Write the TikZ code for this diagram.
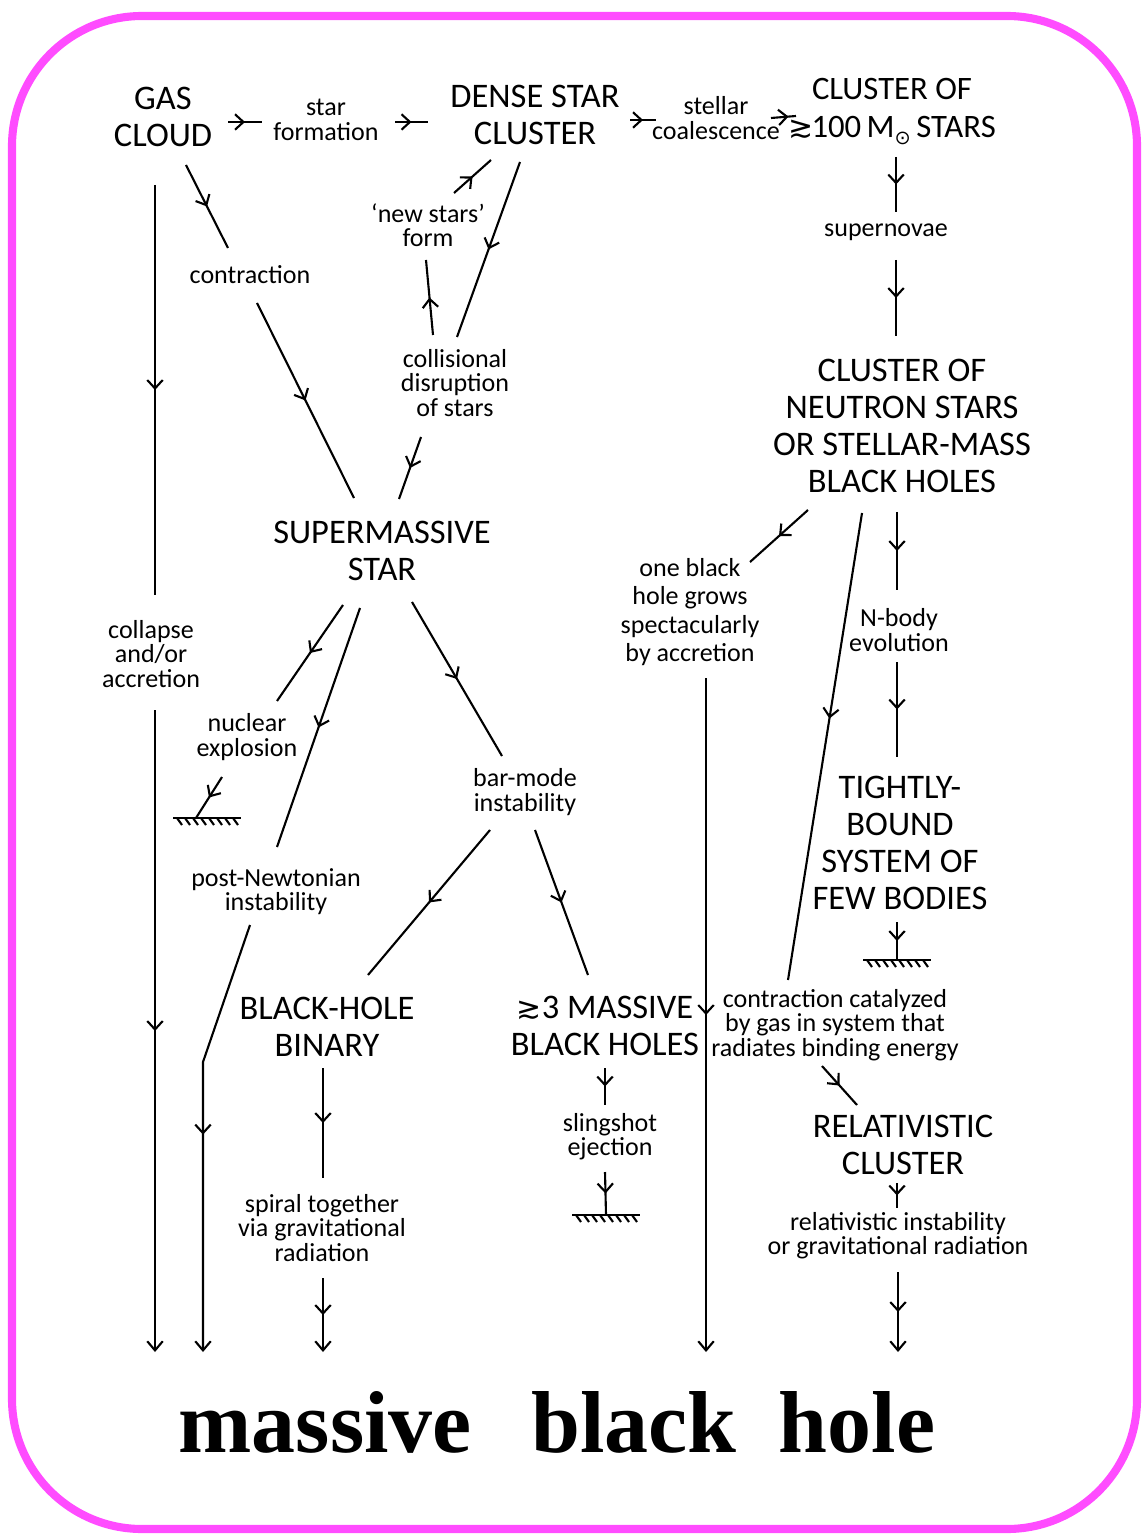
\documentclass[tikz,border=0pt]{standalone}
\usepackage{fontspec}
\setmainfont{Carlito}
\newfontfamily\titlefont{Liberation Serif}
\newfontfamily\symfont{DejaVu Sans}
\usetikzlibrary{arrows.meta, calc, decorations.markings}
\definecolor{cpink}{HTML}{FF4CFF}
\newcommand\gtsim{{\symfont\fontsize{8.5}{8.5}\selectfont ≳}}
\newcommand\msun{M\raisebox{-2.2pt}{\symfont\fontsize{5.5}{5.5}\selectfont ⊙}}
\tikzset{
  every picture/.style={line width=0.6pt},
  stage/.style={font=\fontsize{9.8}{10.6}\selectfont, align=center, inner sep=1pt},
  proc/.style={font=\fontsize{7.4}{6.9}\selectfont, align=center, inner sep=1pt},
  flow/.style={postaction={decorate}, decoration={markings,
      mark=at position #1 with {\arrow{Straight Barb[length=2.4pt, width=4.4pt]}}}},
  flow/.default=0.5,
  into/.style={flow, -{Straight Barb[length=2.6pt, width=4.4pt]}},
  earth/.pic={
    \draw (-34,0) -- (34,0);
    \foreach \h in {-30,-22,...,26} \draw (\h,0) -- ++(5,7);
  },
}

\begin{document}
\begin{tikzpicture}[x=0.01cm, y=-0.01cm]
  \useasboundingbox (0,0) rectangle (1145,1537);
  % frame
  \draw[cpink, line width=2.3pt, rounded corners=1.3cm] (12,16) rectangle (1137,1529);

  % top row
  \node[stage] (gas) at (163,117) {GAS\\CLOUD};
  \node[proc] (starf) at (326,120) {star\\formation};
  \node[stage] (dsc) at (535,115) {DENSE STAR\\CLUSTER};
  \node[proc] (coal) at (716,118) {stellar\\coalescence};
  \node[stage, font=\fontsize{9.3}{10.6}\selectfont] (big) at (892,112) {CLUSTER OF\\\gtsim\kern-0.5pt100\,\msun\,STARS};

  % right column
  \node[proc] (super) at (886,232) {supernovae};
  \node[stage] (ncl) at (902,426) {CLUSTER OF\\NEUTRON STARS\\OR STELLAR-MASS\\BLACK HOLES};
  \node[proc, font=\fontsize{7.4}{8}\selectfont] (onebh) at (690,612) {one black\\hole grows\\spectacularly\\by accretion};
  \node[proc] (nbody) at (899,630) {N-body\\evolution};
  \node[stage] (tight) at (900,843) {TIGHTLY-\\BOUND\\SYSTEM OF\\FEW BODIES};
  \node[proc] (catal) at (835,1025) {contraction catalyzed\\by gas in system that\\radiates binding energy};
  \node[stage] (relcl) at (903,1145) {RELATIVISTIC\\CLUSTER};
  \node[proc] (relinst) at (898,1236) {relativistic instability\\or gravitational radiation};

  % middle and left
  \node[proc] (newst) at (428,225) {‘new stars’\\form};
  \node[proc] (coll) at (455,383) {collisional\\disruption\\of stars};
  \node[proc] (contr) at (250,275) {contraction};
  \node[proc] (collapse) at (151,654) {collapse\\and/or\\accretion};
  \node[stage] (sms) at (382,551) {SUPERMASSIVE\\STAR};
  \node[proc] (nucl) at (247,737) {nuclear\\explosion};
  \node[proc] (postn) at (276,892) {post-Newtonian\\instability};
  \node[proc] (bar) at (525,792) {bar-mode\\instability};
  \node[stage] (bhb) at (327,1027) {BLACK-HOLE\\BINARY};
  \node[stage] (mbh) at (605,1026) {\gtsim 3 MASSIVE\\BLACK HOLES};
  \node[proc] (spiral) at (322,1228) {spiral together\\via gravitational\\radiation};
  \node[proc] (sling) at (610,1137) {slingshot\\ejection};

  \node[font=\titlefont\bfseries\fontsize{25}{25}\selectfont] (mbhole) at (557,1422)
    {massive\hspace{17pt}black\hspace{12pt}hole};

  % dead ends and final arrow ends
  \coordinate (g1) at (207,818);
  \coordinate (g2) at (606,1215);
  \coordinate (g3) at (897,960);
  \foreach \g in {g1,g2,g3} \pic at (\g) {earth};
  \coordinate (e1) at (155,1352);
  \coordinate (e2) at (203,1352);
  \coordinate (e3) at (323,1352);
  \coordinate (e4) at (706,1352);
  \coordinate (e5) at (898,1352);

  % top row connectors
  \draw[flow] ($(gas)+(65,5)$) -- ($(starf)+(-64,2)$);
  \draw[flow] ($(starf)+(69,2)$) -- ($(dsc)+(-107,7)$);
  \draw[flow] ($(dsc)+(95,5)$) -- ($(coal)+(-60,2)$);
  \draw[flow=0.7] ($(coal)+(55,0)$) -- ($(big)+(-96,4)$);

  % right side
  \draw[flow] ($(big)+(4,45)$) -- ($(super)+(10,-20)$);
  \draw[flow] ($(super)+(10,28)$) -- ($(ncl)+(-6,-90)$);
  \draw[flow] ($(ncl)+(-94,84)$) -- ($(onebh)+(60,-50)$);
  \draw[into] ($(onebh)+(16,66)$) -- (e4);
  \draw[flow=0.44] ($(ncl)+(-40,87)$) -- ($(catal)+(-47,-45)$);
  \draw[flow] ($(ncl)+(-5,86)$) -- ($(nbody)+(-2,-40)$);
  \draw[flow] ($(nbody)+(-2,32)$) -- ($(tight)+(-3,-86)$);
  \draw[flow] ($(tight)+(-3,79)$) -- (g3);
  \draw[flow] ($(catal)+(-13,41)$) -- ($(relcl)+(-46,-40)$);
  \draw[flow] ($(relcl)+(-6,38)$) -- ($(relinst)+(-1,-28)$);
  \draw[into] ($(relinst)+(0,36)$) -- (e5);

  % left side
  \draw[flow] ($(gas)+(-8,68)$) -- ($(collapse)+(4,-59)$);
  \draw[into] ($(collapse)+(4,56)$) -- (e1);
  \draw[flow] ($(gas)+(23,48)$) -- ($(contr)+(-22,-27)$);
  \draw[flow] ($(contr)+(7,28)$) -- ($(sms)+(-28,-53)$);
  \draw[flow] ($(dsc)+(-15,47)$) -- ($(coll)+(2,-46)$);
  \draw[flow] ($(coll)+(-22,-48)$) -- ($(newst)+(-2,35)$);
  \draw[flow] ($(newst)+(26,-32)$) -- ($(dsc)+(-44,45)$);
  \draw[flow] ($(coll)+(-34,54)$) -- ($(sms)+(17,-52)$);

  % out of the supermassive star
  \draw[flow] ($(sms)+(-39,54)$) -- ($(nucl)+(30,-36)$);
  \draw[flow] ($(nucl)+(-25,40)$) -- ($(g1)+(-11,0)$);
  \draw[flow] ($(sms)+(-22,57)$) -- ($(postn)+(1,-45)$);
  \draw[into] ($(postn)+(-26,33)$) -- ($(e2)+(0,-290)$) -- (e2);
  \draw[flow] ($(sms)+(30,51)$) -- ($(bar)+(-23,-36)$);
  \draw[flow] ($(bar)+(-35,38)$) -- ($(bhb)+(41,-52)$);
  \draw[flow] ($(bar)+(10,38)$) -- ($(mbh)+(-17,-51)$);
  \draw[flow] ($(bhb)+(-4,41)$) -- ($(spiral)+(1,-50)$);
  \draw[into] ($(spiral)+(1,50)$) -- (e3);
  \draw[flow] ($(mbh)+(0,42)$) -- ($(sling)+(-5,-32)$);
  \draw[flow] ($(sling)+(-5,35)$) -- (g2);
\end{tikzpicture}
\end{document}
